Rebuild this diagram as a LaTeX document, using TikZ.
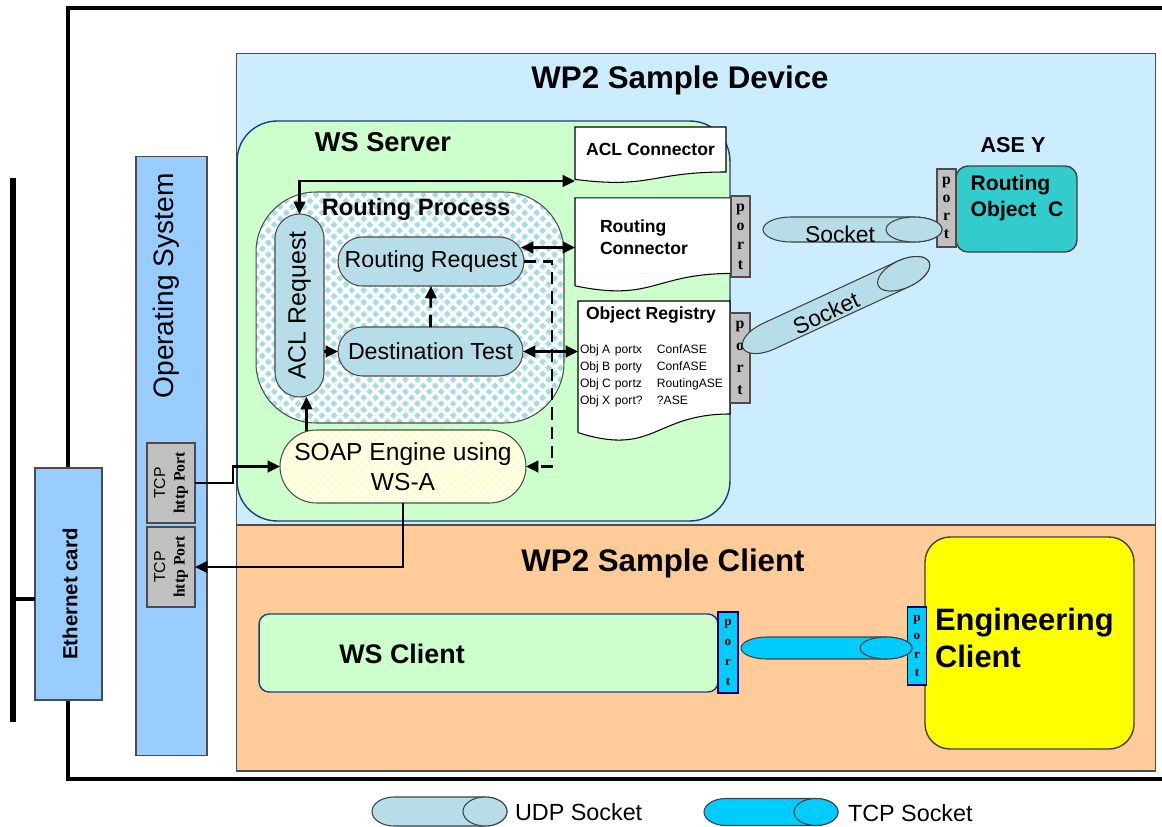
\documentclass[tikz,border=0pt]{standalone}
\usepackage{fontspec}
\setmainfont{Liberation Sans}
\newfontfamily\portfont{Liberation Serif}
\usetikzlibrary{arrows.meta,calc,patterns.meta}

\definecolor{devbg}{HTML}{CCECFF}
\definecolor{clibg}{HTML}{FFCC99}
\definecolor{srvbg}{HTML}{CCFFCC}
\definecolor{osbg}{HTML}{99CCFF}
\definecolor{portgray}{HTML}{C0C0C0}
\definecolor{pilltl}{HTML}{B7DEE8}
\definecolor{rpteal}{HTML}{A6DCE2}
\definecolor{roteal}{HTML}{33CCCC}
\definecolor{tcpcyan}{HTML}{00CCFF}
\definecolor{engyel}{HTML}{FFFF00}
\definecolor{soapyel}{HTML}{FFFFC4}
\definecolor{srvline}{HTML}{1F3C88}

\newcommand\fs[2]{\fontsize{#1pt}{#2pt}\selectfont}

\tikzset{
  every node/.style={inner sep=0pt, outer sep=0pt},
  thinline/.style={draw=black!70, line width=0.6pt},
  panel/.style={thinline, minimum width=18.4cm},
  title/.style={font=\bfseries\fs{17.8}{21}},
  pill/.style={thinline, fill=pilltl, rounded corners=0.49cm},
  soapst/.style={thinline, rounded corners=0.73cm, preaction={fill=soapyel},
    pattern={Hatch[angle=45,distance=3pt,line width=0.7pt]}, pattern color=white},
  rproc/.style={thinline, rounded corners=1.2cm, preaction={fill=rpteal},
    pattern={Hatch[angle=45,distance=4.8pt,line width=1.9pt]}, pattern color=white},
  docbox/.style={fill=white},
  portg/.style={thinline, fill=portgray, align=center, font=\portfont\bfseries\fs{9}{11}},
  portc/.style={draw=blue!40!black, line width=0.6pt, fill=tcpcyan, align=center,
    font=\portfont\bfseries\fs{7.5}{10.5}},
  tubeline/.style={draw=black!75, line width=0.6pt},
  pics/tube/.style n args={4}{code={
    \draw[tubeline, fill=#4] (0,-#2) -- (#1,-#2)
      arc[start angle=-90, end angle=90, x radius=#3, y radius=#2] -- (0,#2)
      arc[start angle=90, end angle=270, x radius=#3, y radius=#2] -- cycle;
    \draw[tubeline, fill=#4] (#1,0) ellipse[x radius=#3, y radius=#2];
  }},
  arr/.style={line width=1.6pt, -{Triangle[length=7pt,width=6.5pt]}},
  arrb/.style={line width=1.6pt, {Triangle[length=7pt,width=6.5pt]}-{Triangle[length=7pt,width=6.5pt]}},
  darr/.style={arr, dash pattern=on 7pt off 4pt},
}

\begin{document}
\begin{tikzpicture}[x=0.02cm, y=-0.02cm]
\useasboundingbox (0,0) rectangle (1162,827);

% housing and network bus
\draw[line width=1.9pt] (1162,8) -- (68,8) -- (68,779) -- (1162,779);
\coordinate (bus) at (13,599);
\draw[line width=3pt] (13,178) -- (13,722);

% device and client panels
\node[panel, fill=devbg, minimum height=9.44cm] (dev) at (696,289) {};
\node[panel, fill=clibg, minimum height=4.92cm] (cli) at (696,648) {};
\node[title] at (680,80) {WP2 Sample Device};
\node[title] at (663,563) {WP2 Sample Client};

% operating system and ethernet card
\node[thinline, fill=osbg, minimum width=1.42cm, minimum height=12cm] (os) at (171.5,456) {};
\node[rotate=90, font=\fs{16}{19}] at (166,286) {Operating System};
\node[thinline, fill=osbg, minimum width=1.34cm, minimum height=4.64cm] (eth) at (68.5,584) {};
\node[rotate=90, font=\bfseries\fs{11.6}{14}] at (70,594) {Ethernet card};
\draw[line width=2pt] (bus) -- (bus -| eth.west);

\node[thinline, fill=portgray, minimum width=0.96cm, minimum height=1.6cm] (tcp1) at (171,483) {};
\node[rotate=90, align=center, font=\fs{9}{11}] at (tcp1) {TCP\\{\portfont\bfseries http Port}};
\node[thinline, fill=portgray, minimum width=0.96cm, minimum height=1.6cm] (tcp2) at (171,567) {};
\node[rotate=90, align=center, font=\fs{9}{11}] at (tcp2) {TCP\\{\portfont\bfseries http Port}};

% web service server
\node[draw=srvline, line width=0.8pt, fill=srvbg, rounded corners=0.8cm,
      minimum width=9.86cm, minimum height=8cm] (srv) at (483.5,321) {};
\node[font=\bfseries\fs{15.5}{18}] at (383,142) {WS Server};

\node[rproc, minimum width=6.16cm, minimum height=4.62cm] (rp) at (410,307.5) {};
\node[font=\bfseries\fs{13.5}{16}] at (416,209) {Routing Process};

\node[pill, minimum width=0.98cm, minimum height=3.66cm] (acl) at (299.5,305.5) {};
\node[rotate=90, font=\fs{14.2}{17}] at (acl) {ACL Request};
\node[pill, minimum width=3.72cm, minimum height=0.98cm, font=\fs{13.2}{16}] (rr) at (431,261.5) {Routing Request};
\node[pill, minimum width=3.7cm, minimum height=0.98cm, font=\fs{13.2}{16}] (dt) at (430.5,351.5) {Destination Test};

\node[soapst, minimum width=4.92cm, minimum height=1.46cm, align=center, font=\fs{14}{17}] (soap) at (403,466.5) {SOAP Engine using\\WS-A};

% connector documents
\node[docbox, minimum width=3.02cm, minimum height=0.9cm, font=\bfseries\fs{10}{12}] (aclc) at (650.5,149.5) {ACL Connector};
\fill[white] (aclc.south east) .. controls (aclc.south) and ($(aclc.south)+(0,17.1)$) .. ($(aclc.south west)+(0,7.4)$) -- (aclc.south west) -- cycle;
\draw[line width=0.6pt] ($(aclc.south west)+(0,7.4)$) -- (aclc.north west) -- (aclc.north east) -- (aclc.south east)
  .. controls (aclc.south) and ($(aclc.south)+(0,17.1)$) .. ($(aclc.south west)+(0,7.4)$);

\node[docbox, minimum width=3.14cm, minimum height=1.51cm] (rc) at (653.5,235.7) {};
\fill[white] (rc.south east) .. controls (rc.south) and ($(rc.south)+(0,28.7)$) .. ($(rc.south west)+(0,12.4)$) -- (rc.south west) -- cycle;
\draw[line width=0.6pt] ($(rc.south west)+(0,12.4)$) -- (rc.north west) -- (rc.north east) -- (rc.south east)
  .. controls (rc.south) and ($(rc.south)+(0,28.7)$) .. ($(rc.south west)+(0,12.4)$);
\node[anchor=west, align=left, font=\bfseries\fs{10}{12.5}] at (600,237) {Routing\\Connector};

\node[docbox, minimum width=3.04cm, minimum height=2.26cm] (or) at (654,357.5) {};
\fill[white] (or.south east) .. controls (or.south) and ($(or.south)+(0,43)$) .. ($(or.south west)+(0,18.6)$) -- (or.south west) -- cycle;
\draw[line width=0.6pt] ($(or.south west)+(0,18.6)$) -- (or.north west) -- (or.north east) -- (or.south east)
  .. controls (or.south) and ($(or.south)+(0,43)$) .. ($(or.south west)+(0,18.6)$);
\node[font=\bfseries\fs{10}{12}] at (651,315) {Object Registry};
\node[anchor=north west, font=\fs{6.9}{9.8}] at (580,341) {%
  \begin{tabular}{@{}p{0.7cm}@{}p{0.84cm}@{}l@{}}
  Obj A & portx & ConfASE\\
  Obj B & porty & ConfASE\\
  Obj C & portz & RoutingASE\\
  Obj X & port? & ?ASE
  \end{tabular}};

% ports of the server
\node[portg, minimum width=0.38cm, minimum height=1.62cm] (prc) at (740.5,236.5) {p\\o\\r\\t};
\node[portg, minimum width=0.4cm, minimum height=1.8cm, font=\portfont\bfseries\fs{9}{12.5}] (por) at (740,358) {p\\o\\r\\t};

% remote routing object
\node[font=\bfseries\fs{12.3}{15}] at (1013,145) {ASE Y};
\node[draw=black!75, line width=0.8pt, fill=roteal, rounded corners=0.24cm,
      minimum width=2.42cm, minimum height=1.72cm] (ro) at (1016.5,209) {};
\node[align=left, font=\bfseries\fs{12}{14.7}] at (1017,198) {Routing\\Object\ \ C};
\node[portg, minimum width=0.38cm, minimum height=1.56cm, font=\portfont\bfseries\fs{9}{10.2}] (pro) at (946.5,208) {p\\o\\r\\t};

% UDP sockets
\pic at (791,229.5) {tube={123}{12.5}{28}{pilltl}};
\node[font=\fs{13}{16}] at (840,234) {Socket};
\pic[rotate=24.8] at (768.4,336.3) {tube={149}{14}{28}{pilltl}};
\node[rotate=24.8, font=\fs{13}{16}] at (826,313) {Socket};

% client side
\node[draw=srvline, line width=0.8pt, fill=srvbg, rounded corners=0.2cm,
      minimum width=9.18cm, minimum height=1.56cm] (wsc) at (488.5,653) {};
\node[font=\bfseries\fs{15.3}{18}] at (402,654) {WS Client};
\node[portc, minimum width=0.4cm, minimum height=1.62cm, font=\portfont\bfseries\fs{7.5}{11.3}] (pwc) at (728,652.5) {p\\o\\r\\t};
\node[draw=black!75, line width=0.8pt, fill=engyel, rounded corners=0.5cm,
      minimum width=4.18cm, minimum height=4.24cm] (engc) at (1029.5,643) {};
\node[anchor=west, align=left, font=\bfseries\fs{17.6}{21.5}] at (935,638) {Engineering\\Client};
\node[portc, minimum width=0.38cm, minimum height=1.56cm] (pec) at (917,646) {p\\o\\r\\t};
\pic at (767,648) {tube={119}{11}{26}{tcpcyan}};

% message flows
\draw[arrb] (acl.north) |- ($(aclc.south west)+(0,9)$);
\coordinate (rrout) at ($(rr.east)+(-3,-14)$);
\draw[arrb] (rrout) -- (rrout -| rc.west);
\draw[darr] (rr.east) -- ++(28,0) |- (soap.east);
\draw[darr] (dt.north) -- (rr.south);
\draw[arr] (acl.east |- dt.west) -- (dt.west);
\draw[arrb] (dt.east) -- (dt.east -| or.west);
\coordinate (soaptop) at ($(acl.south)+(7,34)$);
\draw[arr] (soaptop) -- (soaptop |- acl.south);
\draw[arr] (tcp1.east) -- ++(38,0) |- (soap.west);
\draw[arr] (soap.south) |- (tcp2.east);

% legend
\pic at (394,811.5) {tube={91}{14.5}{22}{pilltl}};
\node[anchor=west, font=\fs{13.3}{16}] at (515,812) {UDP Socket};
\pic at (726,812) {tube={90}{13.5}{22}{tcpcyan}};
\node[anchor=west, font=\fs{13.3}{16}] at (848,813) {TCP Socket};
\end{tikzpicture}
\end{document}
